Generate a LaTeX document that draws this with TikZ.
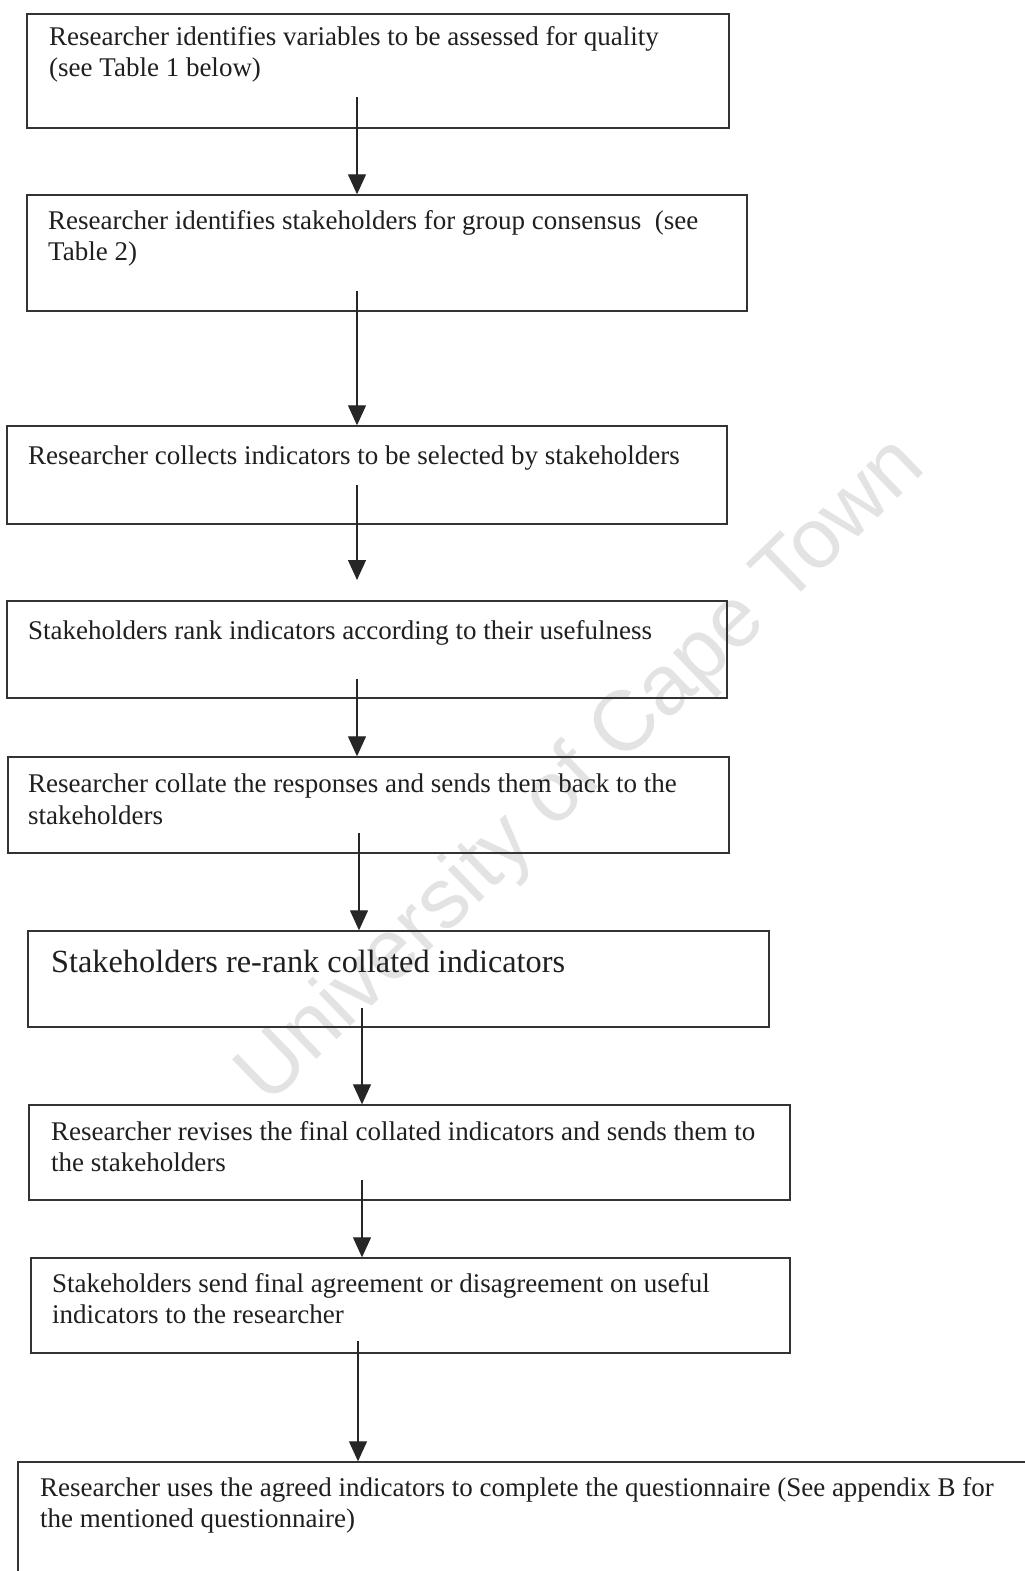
\documentclass[tikz,border=0pt]{standalone}
\usepackage{fontspec}
\setmainfont{Liberation Serif}
\newfontfamily\wmfont{Liberation Sans}
\usetikzlibrary{arrows.meta}
\begin{document}
\begin{tikzpicture}[x=1pt,y=-1pt,
  box/.style={draw=black!80,line width=1.4pt,inner sep=0pt},
  txt/.style={anchor=base west,inner sep=0pt,text=black!88,font=\fontsize{27}{31}\selectfont},
  bigtxt/.style={txt,font=\fontsize{32.3}{38}\selectfont},
  flow/.style={draw=black!85,line width=1.2pt,-{Triangle[width=18pt,length=20pt]}},
  wm/.style={text=black!11,font=\wmfont\fontsize{85}{92}\selectfont,rotate=44}]
\useasboundingbox (0,0) rectangle (1025,1571);
\clip (0,0) rectangle (1025,1571);
\fill[white] (0,0) rectangle (1025,1571);
\node[wm] (wm) at (583,772) {University of Cape Town};

% boxes
\node[box,minimum width=702pt,minimum height=114pt] (b1) at (378,71) {};
\node[box,minimum width=720pt,minimum height=116pt] (b2) at (387,253) {};
\node[box,minimum width=720pt,minimum height=98pt]  (b3) at (367,475) {};
\node[box,minimum width=720pt,minimum height=97pt]  (b4) at (367,649.5) {};
\node[box,minimum width=721pt,minimum height=96pt]  (b5) at (368.5,805) {};
\node[box,minimum width=741pt,minimum height=96pt]  (b6) at (398.5,979) {};
\node[box,minimum width=761pt,minimum height=95pt]  (b7) at (409.5,1152.5) {};
\node[box,minimum width=759pt,minimum height=95pt]  (b8) at (410.5,1305.5) {};
\node[box,minimum width=1027pt,minimum height=139pt] (b9) at (531.5,1531.5) {};

% texts
\node[txt] (t1a) at (49,46) {Researcher identifies variables to be assessed for quality};
\node[txt] (t1b) at (49,77) {(see Table 1 below)};
\node[txt] (t2a) at (48,229) {Researcher identifies stakeholders for group consensus~ (see};
\node[txt] (t2b) at (48,260) {Table 2)};
\node[txt] (t3a) at (28,464) {Researcher collects indicators to be selected by stakeholders};
\node[txt] (t4a) at (28,639) {Stakeholders rank indicators according to their usefulness};
\node[txt] (t5a) at (28,792) {Researcher collate the responses and sends them back to the};
\node[txt] (t5b) at (28,824) {stakeholders};
\node[bigtxt] (t6a) at (51,972) {Stakeholders re-rank collated indicators};
\node[txt] (t7a) at (51,1140) {Researcher revises the final collated indicators and sends them to};
\node[txt] (t7b) at (51,1171) {the stakeholders};
\node[txt] (t8a) at (52,1292) {Stakeholders send final agreement or disagreement on useful};
\node[txt] (t8b) at (52,1323) {indicators to the researcher};
\node[txt] (t9a) at (40,1496) {Researcher uses the agreed indicators to complete the questionnaire (See appendix B for};
\node[txt] (t9b) at (40,1527) {the mentioned questionnaire)};

% arrows
\coordinate (s1) at (357,97);
\coordinate (s2) at (357,291);
\coordinate (s3) at (357,485);
\coordinate (e3) at (357,580);
\coordinate (s4) at (357,679);
\coordinate (s5) at (359,833);
\coordinate (s6) at (362,1008);
\coordinate (s7) at (362,1180);
\coordinate (s8) at (358,1341);
\draw[flow] (s1) -- (s1 |- b2.north);
\draw[flow] (s2) -- (s2 |- b3.north);
\draw[flow] (s3) -- (e3);
\draw[flow] (s4) -- (s4 |- b5.north);
\draw[flow] (s5) -- (s5 |- b6.north);
\draw[flow] (s6) -- (s6 |- b7.north);
\draw[flow] (s7) -- (s7 |- b8.north);
\draw[flow] (s8) -- (s8 |- b9.north);
\end{tikzpicture}
\end{document}
